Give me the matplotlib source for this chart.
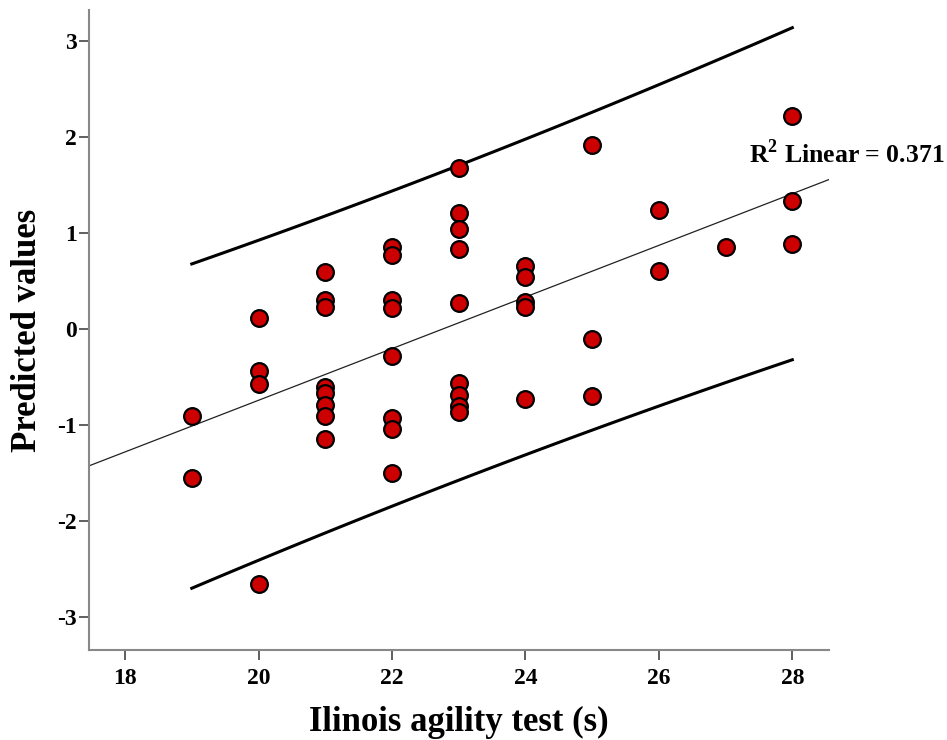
import matplotlib.pyplot as plt
import numpy as np

# values
agility = [19, 19,
           20, 20, 20, 20,
           21, 21, 21, 21, 21, 21, 21, 21,
           22, 22, 22, 22, 22, 22, 22, 22,
           23, 23, 23, 23, 23, 23, 23, 23, 23,
           24, 24, 24, 24, 24,
           25, 25, 25,
           26, 26,
           27,
           28, 28, 28]
predicted = [-0.90, -1.55,
             0.12, -0.44, -0.57, -2.65,
             0.59, 0.30, 0.23, -0.60, -0.67, -0.79, -0.91, -1.14,
             0.85, 0.77, 0.30, 0.22, -0.28, -0.93, -1.04, -1.50,
             1.68, 1.21, 1.04, 0.83, 0.27, -0.56, -0.69, -0.80, -0.86,
             0.66, 0.54, 0.28, 0.23, -0.73,
             1.92, -0.10, -0.70,
             1.24, 0.60,
             0.85,
             2.22, 1.33, 0.89]

x_ticks = [18, 20, 22, 24, 26, 28]
y_ticks = [-3, -2, -1, 0, 1, 2, 3]
r2_label = r"R$^{\mathbf{2}}$ Linear = 0.371"

plt.rcParams['font.family'] = ['Liberation Serif', 'DejaVu Serif']
plt.rcParams['font.weight'] = 'bold'
plt.rcParams['mathtext.fontset'] = 'custom'
plt.rcParams['mathtext.bf'] = 'Liberation Serif:bold'
plt.rcParams['mathtext.rm'] = 'Liberation Serif:bold'

x = np.array(agility, dtype=float)
y = np.array(predicted)
n = len(x)

# linear fit and 95% prediction interval
slope, icpt = np.polyfit(x, y, 1)
resid = y - (slope * x + icpt)
s = np.sqrt(np.sum(resid ** 2) / (n - 2))
sxx = np.sum((x - x.mean()) ** 2)
t = 2.017

fig = plt.figure(figsize=(9.47, 7.40), dpi=100)
ax = fig.add_axes([0.094, 0.1216, 0.7814, 0.8649])

xlim = (17.46, 28.55)
xf = np.array(xlim)
ax.plot(xf, slope * xf + icpt, color='#222222', lw=0.9, zorder=2)

xp = np.linspace(x.min(), x.max(), 100)
half = t * s * np.sqrt(1 + 1 / n + (xp - x.mean()) ** 2 / sxx)
yp = slope * xp + icpt
ax.plot(xp, yp + half, color='black', lw=2.2, zorder=2)
ax.plot(xp, yp - half, color='black', lw=2.2, zorder=2)

ax.scatter(x, y, s=145, c='#cc0000', edgecolors='black', linewidths=1.6, zorder=3)

ax.text(27.35, 1.83, r2_label, fontsize=18.5, fontweight='bold',
        va='center', ha='left', clip_on=False)

ax.set_xlim(*xlim)
ax.set_ylim(-3.34, 3.32)
ax.set_xticks(x_ticks)
ax.set_yticks(y_ticks)
ax.set_xticklabels([str(v) for v in x_ticks])
ax.set_yticklabels([str(v) for v in y_ticks])
ax.tick_params(labelsize=17, length=7, width=1.2, color='#444444')
ax.tick_params(axis='x', pad=6)
ax.tick_params(axis='y', pad=2)

for side in ['top', 'right']:
    ax.spines[side].set_visible(False)
for side in ['left', 'bottom']:
    ax.spines[side].set_color('#888888')
    ax.spines[side].set_linewidth(1.5)

ax.set_xlabel('Ilinois agility test (s)', fontsize=25, fontweight='bold', labelpad=12)
ax.set_ylabel('Predicted values', fontsize=25, fontweight='bold', labelpad=9)

fig.savefig('out.png', dpi=100)
